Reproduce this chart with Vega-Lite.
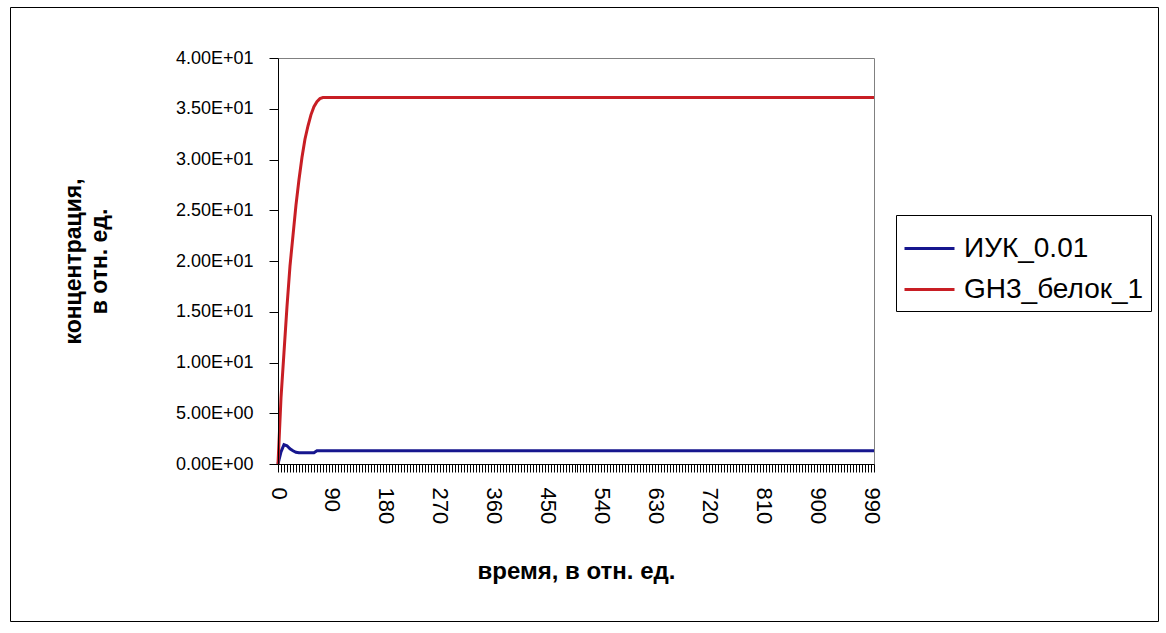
{
  "$schema": "https://vega.github.io/schema/vega-lite/v6.json",
  "width": 1148,
  "height": 614,
  "autosize": {"type": "none"},
  "padding": {"left": 10, "top": 7, "right": 8, "bottom": 12},
  "background": "white",
  "config": {
    "view": {"stroke": "black", "strokeWidth": 1},
    "font": "Liberation Sans",
    "axis": {"ticks": true, "tickColor": "black", "tickWidth": 1, "tickOpacity": 1}
  },
  "data": {
    "values": [
      {"t": 0, "v": 0, "series": "ИУК_0.01"},
      {"t": 5, "v": 1.2, "series": "ИУК_0.01"},
      {"t": 10, "v": 1.9, "series": "ИУК_0.01"},
      {"t": 15, "v": 1.8, "series": "ИУК_0.01"},
      {"t": 20, "v": 1.5, "series": "ИУК_0.01"},
      {"t": 25, "v": 1.3, "series": "ИУК_0.01"},
      {"t": 30, "v": 1.15, "series": "ИУК_0.01"},
      {"t": 35, "v": 1.1, "series": "ИУК_0.01"},
      {"t": 60, "v": 1.1, "series": "ИУК_0.01"},
      {"t": 65, "v": 1.3, "series": "ИУК_0.01"},
      {"t": 995, "v": 1.3, "series": "ИУК_0.01"},
      {"t": 0, "v": 0, "series": "GH3_белок_1"},
      {"t": 5, "v": 6.5, "series": "GH3_белок_1"},
      {"t": 10, "v": 11, "series": "GH3_белок_1"},
      {"t": 15, "v": 15.5, "series": "GH3_белок_1"},
      {"t": 20, "v": 19.5, "series": "GH3_белок_1"},
      {"t": 25, "v": 22.5, "series": "GH3_белок_1"},
      {"t": 30, "v": 25.5, "series": "GH3_белок_1"},
      {"t": 35, "v": 28, "series": "GH3_белок_1"},
      {"t": 40, "v": 30.2, "series": "GH3_белок_1"},
      {"t": 45, "v": 32, "series": "GH3_белок_1"},
      {"t": 50, "v": 33.3, "series": "GH3_белок_1"},
      {"t": 55, "v": 34.4, "series": "GH3_белок_1"},
      {"t": 60, "v": 35.2, "series": "GH3_белок_1"},
      {"t": 65, "v": 35.7, "series": "GH3_белок_1"},
      {"t": 70, "v": 36, "series": "GH3_белок_1"},
      {"t": 75, "v": 36.1, "series": "GH3_белок_1"},
      {"t": 995, "v": 36.1, "series": "GH3_белок_1"}
    ]
  },
  "layer": [
    {
      "mark": {"type": "line", "opacity": 0},
      "encoding": {
        "x": {
          "field": "t",
          "type": "quantitative",
          "scale": {"domain": [0, 995], "range": [268, 864], "nice": false, "zero": false},
          "axis": {
            "orient": "top",
            "offset": -51,
            "labels": false,
            "ticks": false,
            "grid": false,
            "domainColor": "#808080",
            "title": null
          }
        },
        "y": {
          "field": "v",
          "type": "quantitative",
          "scale": {"domain": [0, 40], "range": [457, 51], "nice": false},
          "axis": {
            "orient": "right",
            "offset": -284,
            "labels": false,
            "ticks": false,
            "grid": false,
            "domainColor": "#808080",
            "title": null
          }
        }
      }
    },
    {
      "mark": {"type": "line", "strokeWidth": 3},
      "encoding": {
        "x": {
          "field": "t",
          "type": "quantitative",
          "scale": {"domain": [0, 995], "range": [268, 864], "nice": false, "zero": false},
          "axis": {
            "orient": "bottom",
            "offset": -157,
            "zindex": 3,
            "values": [0,5,10,15,20,25,30,35,40,45,50,55,60,65,70,75,80,85,90,95,100,105,110,115,120,125,130,135,140,145,150,155,160,165,170,175,180,185,190,195,200,205,210,215,220,225,230,235,240,245,250,255,260,265,270,275,280,285,290,295,300,305,310,315,320,325,330,335,340,345,350,355,360,365,370,375,380,385,390,395,400,405,410,415,420,425,430,435,440,445,450,455,460,465,470,475,480,485,490,495,500,505,510,515,520,525,530,535,540,545,550,555,560,565,570,575,580,585,590,595,600,605,610,615,620,625,630,635,640,645,650,655,660,665,670,675,680,685,690,695,700,705,710,715,720,725,730,735,740,745,750,755,760,765,770,775,780,785,790,795,800,805,810,815,820,825,830,835,840,845,850,855,860,865,870,875,880,885,890,895,900,905,910,915,920,925,930,935,940,945,950,955,960,965,970,975,980,985,990,995],
            "labelExpr": "datum.value % 90 === 0 ? datum.label : ''",
            "labelAngle": 90,
            "labelAlign": "left",
            "labelBaseline": "middle",
            "labelOverlap": false,
            "labelFlush": false,
            "labelBound": false,
            "labelFontSize": 22,
            "labelColor": "black",
            "labelPadding": 15,
            "tickSize": 8,
            "tickColor": "#000000",
            "domainColor": "black",
            "grid": false,
            "title": "время, в отн. ед.",
            "titleFontSize": 24,
            "titleFontWeight": "bold",
            "titleColor": "black",
            "titlePadding": 36
          }
        },
        "y": {
          "field": "v",
          "type": "quantitative",
          "scale": {"domain": [0, 40], "range": [457, 51], "nice": false},
          "axis": {
            "orient": "left",
            "offset": -268,
            "zindex": 3,
            "values": [0, 5, 10, 15, 20, 25, 30, 35, 40],
            "labelExpr": "datum.value < 10 ? format(datum.value, '.2f') + 'E+00' : format(datum.value / 10, '.2f') + 'E+01'",
            "labelFontSize": 18,
            "labelColor": "black",
            "labelPadding": 16,
            "tickSize": 9,
            "tickColor": "#000000",
            "domainColor": "black",
            "grid": false,
            "title": ["концентрация,", "в отн. ед."],
            "titleFontSize": 23,
            "titleFontWeight": "bold",
            "titleColor": "black",
            "titleLineHeight": 26,
            "titlePadding": 64
          }
        },
        "color": {
          "field": "series",
          "type": "nominal",
          "scale": {"domain": ["ИУК_0.01", "GH3_белок_1"], "range": ["#16168e", "#c81e24"]},
          "legend": {
            "orient": "none",
            "legendX": 886,
            "legendY": 208,
            "title": null,
            "strokeColor": "black",
            "fillColor": "white",
            "padding": 7,
            "symbolType": "stroke",
            "symbolSize": 2500,
            "symbolStrokeWidth": 3,
            "labelFontSize": 28,
            "labelLimit": 400,
            "labelColor": "black",
            "labelOffset": 8,
            "rowPadding": -10
          }
        }
      }
    }
  ],
  "resolve": {"axis": {"x": "independent", "y": "independent"}}
}
